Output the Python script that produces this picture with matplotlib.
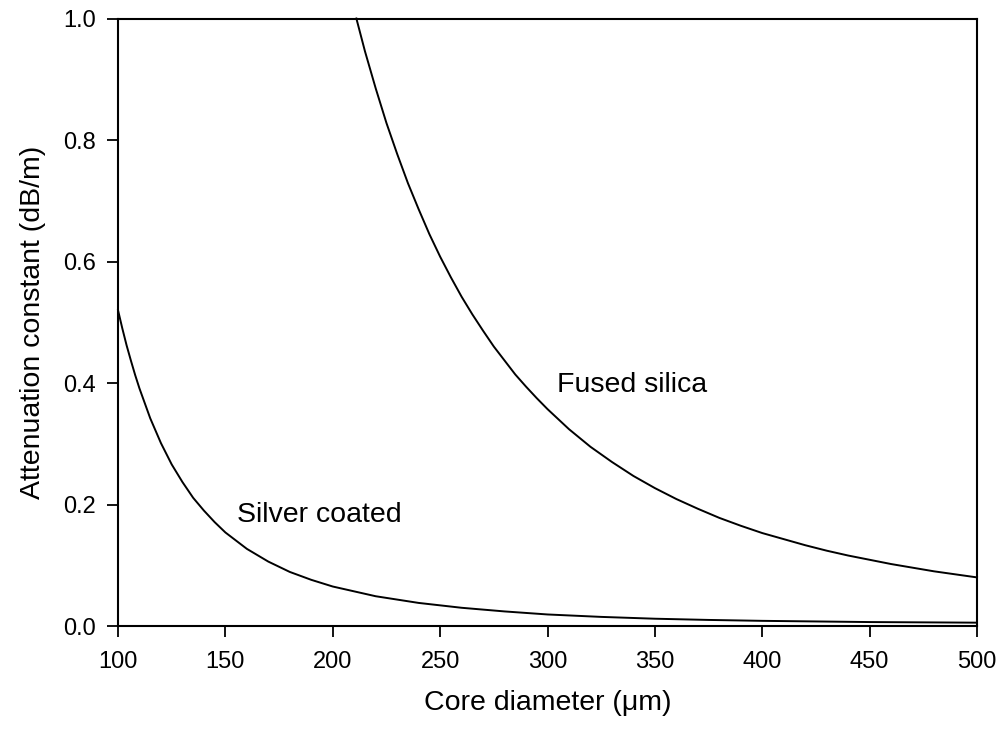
import matplotlib
matplotlib.use("Agg")
import matplotlib.pyplot as plt

# attenuation vs core diameter
silver_d = [100, 102, 104, 106, 108, 110, 115, 120, 125, 130, 135, 140, 145,
            150, 160, 170, 180, 190, 200, 220, 240, 260, 280, 300, 325, 350,
            375, 400, 450, 500]
silver_att = [0.52, 0.490, 0.462, 0.437, 0.413, 0.391, 0.342, 0.301, 0.266,
              0.237, 0.211, 0.190, 0.171, 0.154, 0.127, 0.106, 0.089, 0.076,
              0.065, 0.049, 0.038, 0.030, 0.024, 0.019, 0.015, 0.012, 0.010,
              0.0085, 0.0065, 0.0055]

silica_d = [211, 215, 220, 225, 230, 235, 240, 245, 250, 255, 260, 265, 270,
            275, 280, 285, 290, 295, 300, 310, 320, 330, 340, 350, 360, 370,
            380, 390, 400, 410, 420, 430, 440, 450, 460, 470, 480, 490, 500]
silica_att = [1.00, 0.946, 0.885, 0.828, 0.777, 0.729, 0.686, 0.645, 0.608,
              0.574, 0.542, 0.513, 0.486, 0.460, 0.437, 0.414, 0.394, 0.375,
              0.357, 0.324, 0.295, 0.270, 0.247, 0.227, 0.209, 0.193, 0.178,
              0.165, 0.153, 0.143, 0.133, 0.124, 0.116, 0.109, 0.102, 0.096,
              0.090, 0.085, 0.080]

x_ticks = [100, 150, 200, 250, 300, 350, 400, 450, 500]
y_ticks = [0.0, 0.2, 0.4, 0.6, 0.8, 1.0]

plt.rcParams["font.family"] = ["Liberation Sans", "DejaVu Sans"]

fig = plt.figure(figsize=(10.06, 7.32), dpi=100)
ax = fig.add_axes([0.1173, 0.1448, 0.8539, 0.8299])

ax.plot(silver_d, silver_att, color="black", lw=1.4, clip_on=False)
ax.plot(silica_d, silica_att, color="black", lw=1.4, clip_on=False)

ax.text(155.4, 0.171, "Silver coated", fontsize=20.5)
ax.text(304.4, 0.385, "Fused silica", fontsize=20.5)

ax.set_xlim(100, 500)
ax.set_ylim(0, 1.0)
ax.set_xticks(x_ticks)
ax.set_yticks(y_ticks)
ax.set_yticklabels([f"{v:.1f}" for v in y_ticks])

ax.tick_params(direction="out", length=8, width=1.3, labelsize=17,
               top=False, right=False)
ax.tick_params(axis="x", pad=10)
ax.tick_params(axis="y", pad=8)
for s in ax.spines.values():
    s.set_linewidth(1.5)

ax.set_xlabel("Core diameter (\u03bcm)", fontsize=20.5, labelpad=12)
ax.set_ylabel("Attenuation constant (dB/m)", fontsize=20.5, labelpad=12)

fig.savefig("out.png", dpi=100)
